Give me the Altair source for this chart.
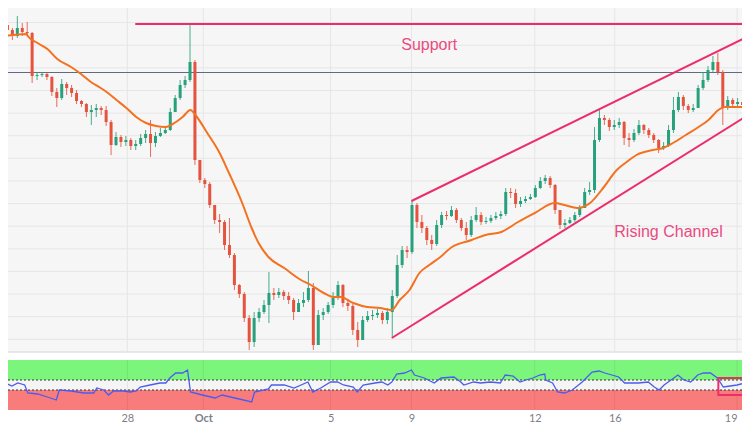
import json
import altair as alt
import numpy as np
import pandas as pd

# ---------------- data (price units, hourly-ish candles) ----------------
first_open = 375
closes = [370, 364, 372, 368, 367, 324, 325, 326, 323, 308,
          302, 316, 312, 307, 299, 296, 288, 290, 292, 290,
          278, 255, 263, 258, 260, 254, 256, 262, 266, 257,
          264, 267, 270, 288, 302, 315, 320, 338, 240, 220,
          216, 195, 180, 178, 155, 145, 115, 106, 82, 58,
          82, 88, 95, 107, 105, 108, 104, 100, 88, 97,
          100, 112, 55, 85, 88, 95, 102, 115, 97, 94,
          70, 60, 80, 84, 85, 87, 80, 88, 104, 135,
          150, 148, 195, 178, 172, 160, 156, 175, 185, 184,
          190, 180, 172, 165, 180, 185, 178, 179, 182, 184,
          186, 208, 207, 196, 199, 201, 203, 212, 219, 222,
          215, 190, 175, 177, 180, 185, 192, 208, 210, 260,
          282, 280, 273, 275, 278, 262, 260, 267, 275, 270,
          265, 260, 252, 254, 270, 290, 303, 294, 290, 292,
          312, 320, 330, 338, 328, 292, 300, 296, 298, 295]
highs = [379, 372, 384, 377, 378, 368, 328, 328, 327, 324,
         312, 321, 318, 315, 310, 300, 297, 295, 296, 294,
         294, 280, 268, 265, 264, 262, 260, 266, 270, 280,
         268, 272, 274, 292, 305, 320, 324, 375, 340, 240,
         222, 218, 195, 186, 180, 182, 147, 116, 108, 85,
         88, 92, 100, 128, 112, 112, 110, 108, 102, 101,
         108, 129, 117, 90, 92, 98, 108, 119, 116, 101,
         96, 78, 84, 89, 90, 91, 89, 92, 110, 145,
         154, 154, 200, 197, 185, 174, 165, 180, 188, 189,
         194, 192, 182, 178, 184, 193, 188, 183, 185, 188,
         189, 212, 212, 211, 203, 204, 206, 215, 223, 225,
         224, 216, 190, 181, 183, 188, 195, 212, 218, 273,
         290, 285, 282, 280, 282, 279, 267, 271, 280, 276,
         272, 267, 261, 258, 275, 303, 308, 305, 296, 296,
         315, 328, 334, 344, 347, 330, 304, 302, 302, 301]
lows = [368, 360, 362, 364, 364, 317, 320, 323, 320, 304,
        293, 300, 305, 303, 296, 293, 283, 275, 283, 285,
        274, 245, 254, 253, 254, 250, 250, 254, 257, 243,
        253, 263, 266, 269, 288, 300, 312, 318, 235, 217,
        212, 192, 176, 167, 150, 142, 110, 102, 78, 50,
        53, 78, 86, 77, 100, 102, 100, 96, 80, 88,
        93, 98, 50, 55, 80, 86, 92, 100, 93, 89,
        65, 53, 60, 78, 80, 82, 76, 76, 63, 102,
        132, 142, 146, 172, 167, 155, 150, 154, 172, 180,
        183, 177, 169, 160, 163, 178, 175, 176, 177, 180,
        181, 184, 202, 192, 193, 197, 200, 202, 211, 216,
        212, 186, 171, 172, 176, 178, 183, 192, 205, 207,
        258, 275, 269, 270, 272, 255, 253, 258, 265, 266,
        262, 257, 247, 250, 253, 267, 288, 290, 287, 288,
        292, 310, 318, 328, 325, 275, 290, 292, 293, 291]

# moving average
ma_t = [0, 4.4, 4.6, 6.6, 8.6, 10.6, 13.4, 15.4, 17.4, 19.4, 20.6, 22.6, 24.6, 26.6, 28.6,
        30.6, 32.6, 34, 36, 37.6, 38.6, 41, 43.4, 45.4, 48, 50, 51.4, 53.4, 56.6, 60,
        62, 64.6, 66.6, 68, 70.6, 73.4, 76, 78.4, 80, 82, 84, 86, 88, 90.6, 94.6,
        97.4, 100.6, 104, 107.4, 111.4, 113.4, 116, 118.6, 121.4, 124, 126, 128, 131.4,
        133.4, 135.4, 138, 140.6, 142.6, 144.6, 146, 150]
ma_v = [364, 366, 364, 357, 351, 341, 333, 326, 318, 312, 308, 300, 292, 283, 277,
        274, 273, 276, 283, 290, 285, 267, 248, 227, 198, 172, 157, 143, 132, 120,
        115, 107, 103, 103, 97, 93, 92, 90, 100, 110, 127, 135, 142, 153, 160,
        165, 168, 178, 187, 197, 195, 192, 197, 213, 230, 238, 245, 250,
        252, 257, 265, 273, 280, 290, 293, 293]

# oscillator (lower panel)
rsi_t = [0, 1.4, 2.6, 4, 4.6, 6.6, 8.6, 10.4, 11, 13.4, 16, 18, 18.6, 20, 21, 22, 24, 25.4,
         26.6, 27.4, 29.4, 31.4, 32.6, 33.4, 34.6, 36, 37, 37.6, 40, 42.6, 44, 46.6, 50,
         50.6, 53.4, 54, 56.6, 58.6, 61.4, 62.4, 64, 66, 67.4, 68.6, 70.6, 71.4, 72.6, 75,
         76.4, 77.6, 78.4, 79.4, 81, 82.4, 83, 85, 87, 88.4, 91, 92.4, 93, 95, 96.4, 98.4,
         100.4, 101.4, 103, 104.4, 105.6, 107, 108.4, 109.4, 109.6, 111, 112, 113.4, 115,
         117, 119, 120.4, 121.6, 123, 124.4, 125.6, 128.4, 130.4, 131.6, 132.6, 133.6, 135,
         136.4, 137.6, 139, 140.4, 141.6, 143, 144.4, 145.6, 147, 148.4, 150]
rsi_v = [54, 48, 54, 50, 34, 32, 26, 20, 40, 38, 34, 34, 44, 40, 30, 38, 38, 36,
         38, 46, 50, 54, 54, 64, 74, 74, 80, 36, 30, 24, 30, 24, 16,
         36, 42, 50, 50, 44, 56, 36, 44, 56, 56, 50, 46, 36, 50, 54,
         56, 50, 56, 72, 74, 80, 70, 64, 54, 64, 66, 56, 50, 56, 54, 56,
         54, 70, 68, 56, 60, 64, 70, 72, 60, 54, 36, 34, 40,
         56, 76, 78, 74, 70, 66, 54, 54, 56, 46, 40, 50, 60,
         70, 60, 56, 70, 74, 74, 64, 46, 48, 50, 54]

# annotations
support_level = 376
support_start = 26.4
pivot_level = 327.5
channel_names = ["upper", "lower"]
channel_t1 = [82.4, 78.4]
channel_p1 = [199, 62]
channel_t2 = [150, 150]
channel_p2 = [362, 283]
text_labels = ["Support", "Rising Channel"]
text_t = [86, 134.5]
text_p = [355, 168]
box_t = [144.6, 151]
box_rsi = [30, 64]
rsi_levels = [40, 60]

tick_pos = [24.8, 40.2, 66, 82.4, 107.4, 123.6, 148.4]
tick_lab = ["28", "Oct", "5", "9", "12", "16", "19"]

# ---------------- styling ----------------
GREEN = "#27a07c"
RED = "#e5533f"
ORANGE = "#f4711f"
PINK = "#ec2d6a"
PINK_TXT = "#ea4a80"
SLATE = "#5f6b82"
BLUE = "#4a5cf0"
BG = "#f6f6f6"
GRID = "#e6e6e6"

opens = [first_open] + closes[:-1]
candles = pd.DataFrame({"t": np.arange(len(closes)) + 0.5, "open": opens,
                        "high": highs, "low": lows, "close": closes})
candles["dir"] = np.where(candles["close"] >= candles["open"], "up", "down")

x_scale = alt.Scale(domain=[0, 150], nice=False, zero=False)
p_scale = alt.Scale(domain=[48, 400], range=[352, 0], nice=False, zero=False)
r_scale = alt.Scale(domain=[0, 100], range=[410, 360], nice=False, zero=False)

label_expr = f"{json.dumps(tick_lab)}[indexof({json.dumps(tick_pos)}, datum.value)]"
x_axis = alt.Axis(values=tick_pos, labelExpr=label_expr, grid=False, ticks=False,
                  domain=False, labelPadding=10, labelBaseline="alphabetic",
                  labelColor="#7c7f88", labelFontSize=11, labelFont="Lato", title=None,
                  labelFlush=False, labelOverlap=False,
                  labelAlign={"condition": {"test": f"datum.value == {tick_pos[-1]}", "value": "right"},
                              "value": "center"},
                  labelFontWeight={"condition": {"test": "datum.value == 40.2", "value": "bold"},
                                   "value": "normal"})


def X(f):
    return alt.X(f, type="quantitative", scale=x_scale, axis=x_axis)


def P(f):
    return alt.Y(f, type="quantitative", scale=p_scale, axis=None)


def R(f):
    return alt.Y(f, type="quantitative", scale=r_scale, axis=None)


color_enc = alt.Color("dir:N", scale=alt.Scale(domain=["up", "down"], range=[GREEN, RED]),
                      legend=None)

bg = alt.Chart(pd.DataFrame({"a": [0], "b": [150], "lo": [48], "hi": [400]})).mark_rect(
    color=BG).encode(x=X("a"), x2="b", y=P("lo"), y2="hi")

grid_prices = [round(400 - 22.62 * m, 2) for m in range(1, 16)]
hgrid = alt.Chart(pd.DataFrame({"p": grid_prices})).mark_rule(
    color=GRID, strokeWidth=1).encode(y=P("p"))

vg_df = pd.DataFrame({"t": tick_pos, "lo": 48, "hi": 400, "rlo": 0, "rhi": 100})
vgrid_main = alt.Chart(vg_df).mark_rule(color=GRID, strokeWidth=1).encode(
    x=X("t"), y=P("lo"), y2="hi")

pivot = alt.Chart(pd.DataFrame({"p": [pivot_level]})).mark_rule(
    color=SLATE, strokeWidth=1).encode(y=P("p"))

wicks = alt.Chart(candles).mark_rule(strokeWidth=1, opacity=0.85).encode(
    x=X("t"), y=P("low"), y2="high", color=color_enc)
bodies = alt.Chart(candles).mark_bar(size=3).encode(
    x=X("t"), y=P("open"), y2="close", color=color_enc)

ma = alt.Chart(pd.DataFrame({"t": ma_t, "v": ma_v})).mark_line(
    color=ORANGE, strokeWidth=2, interpolate="monotone").encode(x=X("t"), y=P("v"))

support = alt.Chart(pd.DataFrame({"a": [support_start], "b": [150], "p": [support_level]})).mark_rule(
    color=PINK, strokeWidth=2).encode(x=X("a"), x2="b", y=P("p"))

channel = alt.Chart(pd.DataFrame({"name": channel_names, "t1": channel_t1, "p1": channel_p1,
                                  "t2": channel_t2, "p2": channel_p2})).mark_rule(
    color=PINK, strokeWidth=2).encode(x=X("t1"), x2="t2", y=P("p1"), y2="p2")

texts = alt.Chart(pd.DataFrame({"label": text_labels, "t": text_t, "p": text_p})).mark_text(
    color=PINK_TXT, fontSize=16, font="Liberation Sans", align="center",
    baseline="middle").encode(x=X("t"), y=P("p"), text="label:N")

border = alt.Chart(pd.DataFrame({"p": [48]})).mark_rule(color="#dde1e8", strokeWidth=1.5).encode(
    y=P("p"))

main = alt.layer(bg, hgrid, vgrid_main, pivot, wicks, bodies, ma, support, channel, texts, border)

bands = alt.Chart(pd.DataFrame({"a": [0, 0, 0], "b": [150, 150, 150], "lo": [60, 40, 0],
                                "hi": [100, 60, 40],
                                "c": ["#7cf57c", "#f5f5f5", "#f97c7c"]})).mark_rect().encode(
    x=X("a"), x2="b", y=R("lo"), y2="hi", color=alt.Color("c:N", scale=None))

vgrid_rsi = alt.Chart(vg_df).mark_rule(color="#000000", opacity=0.07, strokeWidth=1).encode(
    x=X("t"), y=R("rlo"), y2="rhi")

levels = alt.Chart(pd.DataFrame({"v": rsi_levels})).mark_rule(
    color="#333333", strokeWidth=1, strokeDash=[2, 2]).encode(y=R("v"))

rsi_line = alt.Chart(pd.DataFrame({"t": rsi_t, "v": rsi_v})).mark_line(
    color=BLUE, strokeWidth=1.3).encode(x=X("t"), y=R("v"))

box = alt.Chart(pd.DataFrame({"a": [box_t[0]], "b": [box_t[1]], "lo": [box_rsi[0]],
                              "hi": [box_rsi[1]]})).mark_rect(
    fillOpacity=0, stroke=PINK, strokeWidth=2).encode(x=X("a"), x2="b", y=R("lo"), y2="hi")

rsi = alt.layer(bands, vgrid_rsi, levels, rsi_line, box)

chart = alt.layer(main, rsi).resolve_scale(y="independent").properties(
    width=750, height=411,
    padding={"left": -8, "top": -8, "right": -8, "bottom": 11},
    autosize=alt.AutoSizeParams(type="none"),
    background="white",
).configure_view(strokeWidth=0)

chart.save("out.html", embed_options={"renderer": "svg", "actions": False})
